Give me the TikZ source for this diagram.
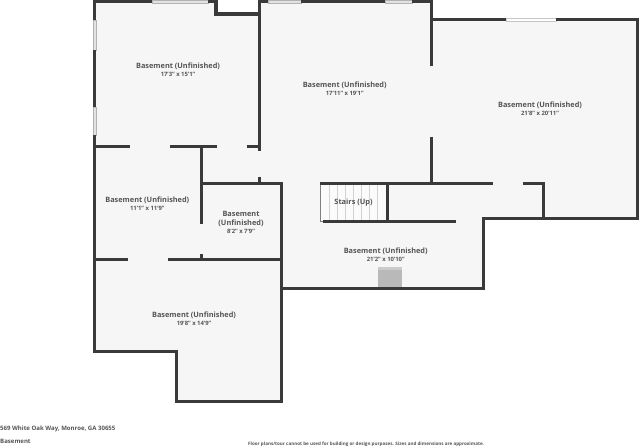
\documentclass[tikz,border=0pt]{standalone}
\usepackage{fontspec}
\setmainfont{Open Sans}
\tikzstyle{floor}=[fill=floorgray, draw=none]
\tikzstyle{wall}=[draw=wallgray, line width=3.3pt, line join=miter]
\tikzstyle{pane}=[fill=panegray, draw=gray!60, line width=0.5pt]
\tikzstyle{clearpane}=[fill=white, draw=gray!45, line width=0.5pt]
\tikzstyle{tread}=[draw=gray!35, line width=0.5pt]
\tikzstyle{room}=[text=labelgray, font=\fontsize{7.35}{9}\selectfont\bfseries, align=center, inner sep=0pt, yshift=-0.7pt]
\tikzstyle{size}=[text=labelgray, font=\fontsize{5.9}{6}\selectfont\bfseries, inner sep=0pt]
\tikzstyle{foot}=[text=labelgray, font=\fontsize{6.05}{7}\selectfont\bfseries, inner sep=0pt, anchor=west]
\definecolor{floorgray}{HTML}{F6F6F6}
\definecolor{wallgray}{HTML}{3A3A3A}
\definecolor{panegray}{HTML}{E2E2E2}
\definecolor{labelgray}{HTML}{555555}
\definecolor{blockgray}{HTML}{B9B9B9}
\definecolor{blocktop}{HTML}{CBCBCB}
\begin{document}
\begin{tikzpicture}[x=1pt, y=-1pt]
    \useasboundingbox (0, 0) rectangle (640, 447);
    % floor
    \path[floor] (94, 1) -- (216, 1) -- (216, 14) -- (260, 14) -- (260, 1) -- (432, 1) -- (432, 19)
        -- (637, 19) -- (637, 219) -- (484, 219) -- (484, 288) -- (282, 288) -- (282, 402)
        -- (177, 402) -- (177, 352) -- (94, 352) -- cycle;
    % stairs
    \path[fill=white!60!floorgray] (320.5, 183) rectangle (387, 221);
    \foreach \stepx in {329.3, 337.3, 345.3, 353.3, 361.5, 369.5, 377.7}
        \draw[tread] (\stepx, 184) -- (\stepx, 220);
    \draw[draw=gray, line width=0.8pt] (320.5, 183) -- (320.5, 221) -- (324, 221);
    % block
    \fill[blockgray] (377.7, 266.5) rectangle (402.3, 287);
    \fill[blocktop] (377.7, 266.5) rectangle (402.3, 269.5);
    % windows
    \draw[pane] (152, 0.3) rectangle (208, 3.2);
    \draw[pane] (268, 0.3) rectangle (301, 3.2);
    \draw[pane] (385, 0.3) rectangle (412, 3.2);
    \draw[pane] (92.9, 20) rectangle (95.8, 50);
    \draw[pane] (92.9, 107) rectangle (95.8, 135);
    \draw[clearpane] (506, 17.8) rectangle (556, 20.9);
    % outer walls
    \draw[wall] (94.3, 20) -- (94.3, 1.6) -- (152, 1.6);
    \draw[wall] (94.3, 50) -- (94.3, 107);
    \draw[wall] (94.3, 135) -- (94.3, 351.7) -- (176.8, 351.7) -- (176.8, 401.7) -- (281.8, 401.7) -- (281.8, 183.3);
    \draw[wall] (208, 1.6) -- (216, 1.6) -- (216, 14) -- (259.5, 14);
    \draw[wall] (258, 1.6) -- (268, 1.6);
    \draw[wall] (301, 1.6) -- (385, 1.6);
    \draw[wall] (412, 1.6) -- (431.7, 1.6) -- (431.7, 66);
    \draw[wall] (431.7, 19.3) -- (506, 19.3);
    \draw[wall] (556, 19.3) -- (637.3, 19.3) -- (637.3, 218.7) -- (483.7, 218.7) -- (483.7, 288.3) -- (281.8, 288.3);
    % inner walls
    \draw[wall] (259.8, 0.5) -- (259.8, 150.5);
    \draw[wall] (94.3, 146.7) -- (129.6, 146.7);
    \draw[wall] (169.5, 146.7) -- (216.7, 146.7);
    \draw[wall] (246.7, 146.7) -- (259.8, 146.7);
    \draw[wall] (201.8, 146.7) -- (201.8, 224);
    \draw[wall] (201.8, 183.3) -- (283.3, 183.3);
    \draw[wall] (259.5, 177) -- (259.5, 183.3);
    \draw[wall] (94.3, 259.5) -- (127.7, 259.5);
    \draw[wall] (168.3, 259.5) -- (281.8, 259.5);
    \draw[wall] (201.8, 254) -- (201.8, 259.5);
    \draw[wall] (431.7, 136.7) -- (431.7, 183.3);
    \draw[wall] (320, 183.3) -- (493.3, 183.3);
    \draw[wall] (523.3, 183.3) -- (543.8, 183.3) -- (543.8, 218.7);
    \draw[wall] (387.3, 183.3) -- (387.3, 221.3);
    \draw[wall] (323.3, 221.3) -- (455.5, 221.3);
    % labels
    \node[room] (r1) at (178, 66) {Basement (Unfinished)};
    \node[size] (s1) at (178, 74.7) {17'3" x 15'1"};
    \node[room] (r2) at (344.7, 84.7) {Basement (Unfinished)};
    \node[size] (s2) at (344.7, 93) {17'11" x 19'1"};
    \node[room] (r3) at (540, 105) {Basement (Unfinished)};
    \node[size] (s3) at (540, 113.3) {21'8" x 20'11"};
    \node[room] (r4) at (147.3, 199.7) {Basement (Unfinished)};
    \node[size] (s4) at (147.3, 208.3) {11'1" x 11'9"};
    \node[room] (r5) at (241, 218.4) {Basement\\(Unfinished)};
    \node[size] (s5) at (241, 231.7) {8'2" x 7'9"};
    \node[room] (up) at (353.5, 202.3) {Stairs (Up)};
    \node[room] (r6) at (385.7, 250.7) {Basement (Unfinished)};
    \node[size] (s6) at (385.7, 259.3) {21'2" x 10'10"};
    \node[room] (r7) at (194, 315) {Basement (Unfinished)};
    \node[size] (s7) at (194, 323.7) {19'8" x 14'9"};
    \node[foot] (addr) at (0, 429) {569 White Oak Way, Monroe, GA 30655};
    \node[foot] (lvl) at (0, 441.7) {Basement};
    \node[foot, font=\fontsize{4.56}{6}\selectfont\bfseries] (note) at (248, 444) {Floor plans/tour cannot be used for building or design purposes. Sizes and dimensions are approximate.};
\end{tikzpicture}
\end{document}
